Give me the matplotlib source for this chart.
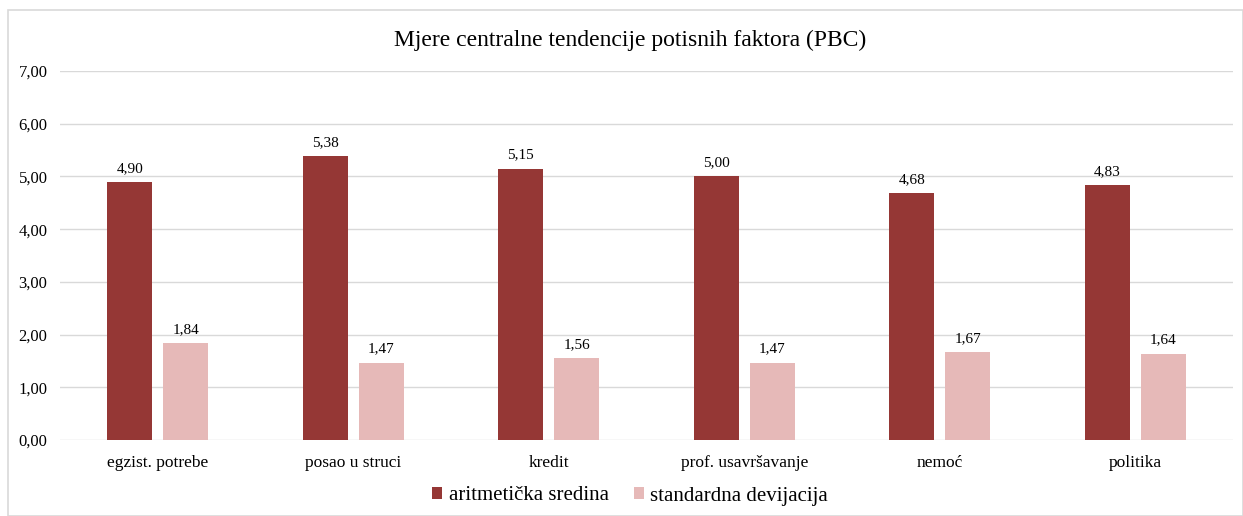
import matplotlib
matplotlib.use("Agg")
import numpy as np
import matplotlib.pyplot as plt
from matplotlib.patches import Rectangle

categories = ["egzist. potrebe", "posao u struci", "kredit", "prof. usavršavanje", "nemoć", "politika"]
mean_values = [4.90, 5.38, 5.15, 5.00, 4.68, 4.83]
std_values = [1.84, 1.47, 1.56, 1.47, 1.67, 1.64]
series_labels = ["aritmetička sredina", "standardna devijacija"]
y_ticks = [0, 1, 2, 3, 4, 5, 6, 7]

DARK = "#953735"
PINK = "#E6B9B8"

plt.rcParams["font.family"] = ["Liberation Serif", "DejaVu Serif"]


def fmt(v):
    return f"{v:.2f}".replace(".", ",")


fig = plt.figure(figsize=(12.43, 5.16), dpi=100)
fig.patches.append(Rectangle((8 / 1243, 0), 1 - 8 / 1243, 1 - 10 / 516, transform=fig.transFigure,
                             fill=False, edgecolor="#d9d9d9", linewidth=1.2))
ax = fig.add_axes([60 / 1243, 1 - 440 / 516, 1173 / 1243, (440 - 71) / 516])

x = np.arange(len(categories))
width = 0.23
offset = 0.143
b1 = ax.bar(x - offset, mean_values, width, color=DARK, label=series_labels[0], zorder=3)
b2 = ax.bar(x + offset, std_values, width, color=PINK, label=series_labels[1], zorder=3)

for bars, vals in ((b1, mean_values), (b2, std_values)):
    for rect, v in zip(bars, vals):
        ax.annotate(fmt(v), (rect.get_x() + rect.get_width() / 2, v), xytext=(0, 5),
                    textcoords="offset points", ha="center", va="bottom", fontsize=11)

ax.set_xlim(-0.5, len(categories) - 0.5)
ax.set_ylim(0, 7)
ax.set_yticks(y_ticks)
ax.set_yticklabels([fmt(t) for t in y_ticks], fontsize=12)
ax.set_xticks(x)
ax.set_xticklabels(categories, fontsize=12.5)
ax.tick_params(length=0)
ax.tick_params(axis="x", pad=11)
ax.tick_params(axis="y", pad=9)
ax.grid(True, axis="y", color="#d9d9d9", linewidth=1, zorder=0)
for s in ax.spines.values():
    s.set_visible(False)

fig.text(630 / 1243, 1 - 40 / 516, "Mjere centralne tendencije potisnih faktora (PBC)",
         ha="center", va="center", fontsize=17)

fig.legend(loc="center", bbox_to_anchor=(630 / 1243, 1 - 496 / 516), ncol=2, frameon=False,
           fontsize=15, handlelength=0.5, handleheight=0.5, handletextpad=0.3, columnspacing=1.2)

fig.savefig("out.png", dpi=100)
